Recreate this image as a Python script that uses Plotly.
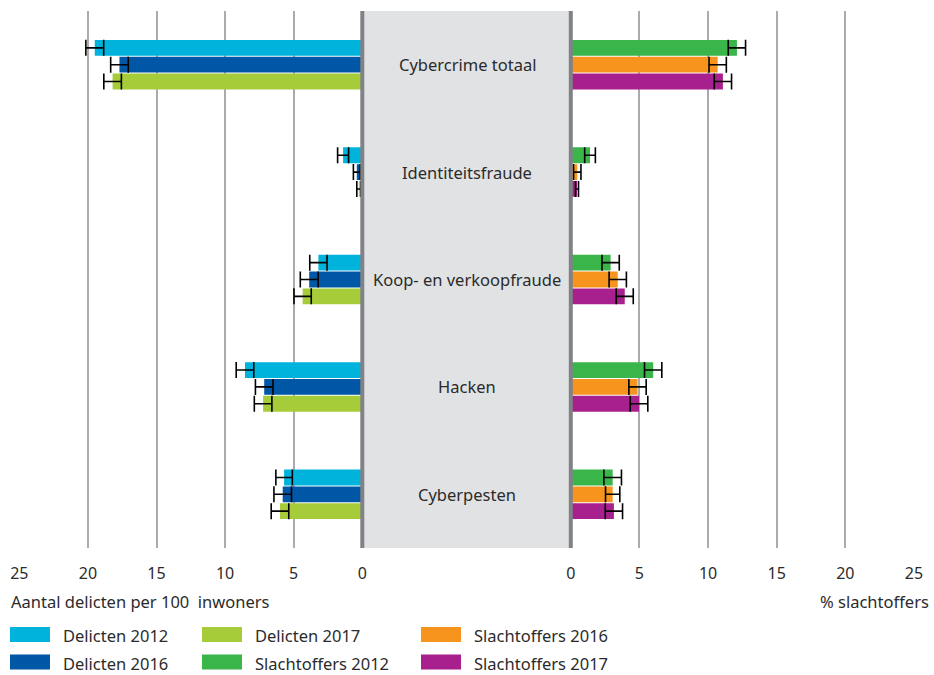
import plotly.graph_objects as go

W, H = 934, 675

categories = ["Cybercrime totaal", "Identiteitsfraude", "Koop- en verkoopfraude", "Hacken", "Cyberpesten"]

# aantal delicten per 100 inwoners
delicten_2012 = [19.5, 1.4, 3.2, 8.55, 5.7]
delicten_2016 = [17.7, 0.4, 3.87, 7.15, 5.8]
delicten_2017 = [18.2, 0.25, 4.35, 7.23, 6.0]
delicten_2012_err = [0.65, 0.4, 0.63, 0.64, 0.6]
delicten_2016_err = [0.64, 0.25, 0.65, 0.64, 0.64]
delicten_2017_err = [0.64, 0.15, 0.63, 0.64, 0.64]

# % slachtoffers
slachtoffers_2012 = [12.1, 1.4, 2.9, 6.0, 3.05]
slachtoffers_2016 = [10.7, 0.47, 3.42, 4.86, 3.05]
slachtoffers_2017 = [11.08, 0.45, 3.93, 4.97, 3.14]
slachtoffers_2012_err = [0.63, 0.39, 0.63, 0.63, 0.64]
slachtoffers_2016_err = [0.63, 0.27, 0.63, 0.63, 0.52]
slachtoffers_2017_err = [0.63, 0.11, 0.62, 0.64, 0.63]

tick_vals = [0, 5, 10, 15, 20, 25]

FONT = "Noto Sans, DejaVu Sans, sans-serif"
TXT = "#2b2b2b"
FS = 16.5


def px(x):
    return x / W


def py(y):
    return 1 - y / H


left = [
    ("Delicten 2012", delicten_2012, delicten_2012_err, "#00b3dc"),
    ("Delicten 2016", delicten_2016, delicten_2016_err, "#0057a6"),
    ("Delicten 2017", delicten_2017, delicten_2017_err, "#a6cd39"),
]
right = [
    ("Slachtoffers 2012", slachtoffers_2012, slachtoffers_2012_err, "#39b54a"),
    ("Slachtoffers 2016", slachtoffers_2016, slachtoffers_2016_err, "#f7941d"),
    ("Slachtoffers 2017", slachtoffers_2017, slachtoffers_2017_err, "#a8208d"),
]

fig = go.Figure()
for xa, series in (("x", left), ("x2", right)):
    for name, vals, err, col in series:
        fig.add_trace(go.Bar(
            y=categories, x=vals, orientation="h", name=name,
            marker=dict(color=col, line=dict(width=0)),
            error_x=dict(type="data", array=err, color="black", thickness=1.6, width=8),
            xaxis=xa, yaxis="y", showlegend=False,
        ))

plot_top, plot_bot = 11, 548
xcommon = dict(tickvals=tick_vals, showgrid=True, gridcolor="#a9abae", automargin=False,
               gridwidth=1.6, zeroline=False, showline=False, ticks="",
               tickfont=dict(size=16, color=TXT, family=FONT), ticklabelstandoff=14)
fig.update_layout(
    width=W, height=H,
    margin=dict(l=0, r=0, t=0, b=0),
    paper_bgcolor="white", plot_bgcolor="rgba(0,0,0,0)",
    barmode="group", bargap=0.53, bargroupgap=0.06,
    font=dict(family=FONT, color=TXT),
    xaxis={**xcommon, "domain": [px(19.3), px(362.3)], "range": [25, 0]},
    xaxis2={**xcommon, "domain": [px(570.8), px(914)], "range": [0, 25], "anchor": "y"},
    yaxis=dict(domain=[py(plot_bot), py(plot_top)], range=[4.5, -0.5], type="category",
               automargin=False, showticklabels=False, showgrid=False, zeroline=False, ticks=""),
)

shapes = [
    dict(type="rect", xref="paper", yref="paper", x0=px(362.3), x1=px(570.8),
         y0=py(plot_bot), y1=py(plot_top), fillcolor="#e1e2e4", line=dict(width=0), layer="below"),
    dict(type="line", xref="paper", yref="paper", x0=px(362.3), x1=px(362.3),
         y0=py(plot_bot), y1=py(plot_top), line=dict(color="#808285", width=4), layer="above"),
    dict(type="line", xref="paper", yref="paper", x0=px(570.8), x1=px(570.8),
         y0=py(plot_bot), y1=py(plot_top), line=dict(color="#808285", width=4), layer="above"),
]

annotations = []
for c in categories:
    annotations.append(dict(x=px(467), y=c, xref="paper", yref="y", text=c, showarrow=False,
                            xanchor="center", yanchor="middle", font=dict(size=FS, color=TXT)))

annotations.append(dict(x=px(9), y=py(601), xref="paper", yref="paper",
                        text="Aantal delicten per 100  inwoners", showarrow=False,
                        xanchor="left", yanchor="middle", font=dict(size=FS, color=TXT)))
annotations.append(dict(x=px(931), y=py(601), xref="paper", yref="paper",
                        text="% slachtoffers", showarrow=False,
                        xanchor="right", yanchor="middle", font=dict(size=FS, color=TXT)))

# legend, two rows, filled column by column
legend_items = left + right
col_x = [10, 202, 421]
row_y = [634.5, 662]
for i, (name, _, _, col) in enumerate(legend_items):
    cx, ry = col_x[i // 2], row_y[i % 2]
    shapes.append(dict(type="rect", xref="paper", yref="paper", x0=px(cx), x1=px(cx + 40),
                       y0=py(ry + 7.5), y1=py(ry - 7.5), fillcolor=col, line=dict(width=0)))
    annotations.append(dict(x=px(cx + 51), y=py(ry + 1), xref="paper", yref="paper", text=name,
                            showarrow=False, xanchor="left", yanchor="middle",
                            font=dict(size=FS, color=TXT)))

fig.update_layout(shapes=shapes, annotations=annotations)
fig.write_html("out.html", config={"displayModeBar": False},
               post_script="document.body.style.margin='0';")
